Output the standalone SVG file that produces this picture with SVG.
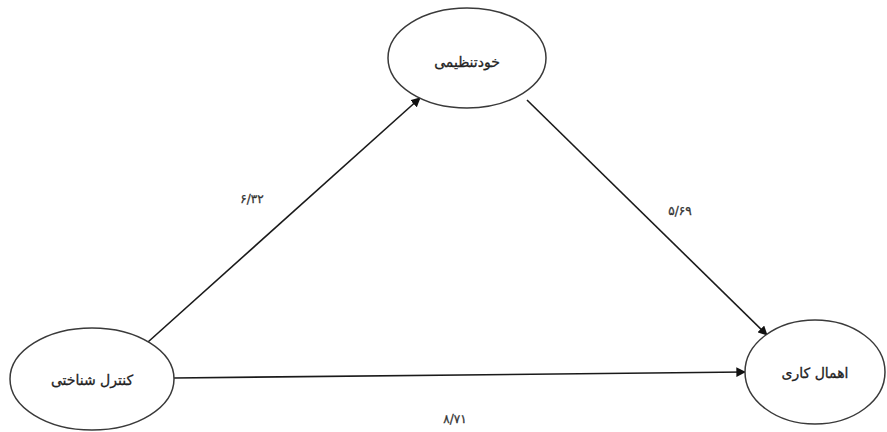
<svg xmlns="http://www.w3.org/2000/svg" width="887" height="432" viewBox="0 0 887 432">
<style>
.node{fill:#fff;stroke:#3a3a3a;stroke-width:1.5}
.lbl{font-family:"DejaVu Sans","Noto Sans",sans-serif;font-size:14px;fill:#222;stroke:#222;stroke-width:0.3;text-anchor:middle}
.num{font-family:"DejaVu Sans","Noto Sans",sans-serif;font-size:12px;fill:#333;stroke:#333;stroke-width:0.3;text-anchor:middle}
.edge{stroke:#1a1a1a;stroke-width:1.6;fill:none;marker-end:url(#arr)}
</style>
<defs>
<marker id="arr" viewBox="0 0 10 10" refX="9" refY="5" markerWidth="6" markerHeight="6" orient="auto" markerUnits="strokeWidth">
<path d="M0,0 L10,5 L0,10 z" fill="#111"/>
</marker>
</defs>
<rect width="887" height="432" fill="#fff"/>
<g id="edges">
<line class="edge" x1="148" y1="342" x2="420" y2="98"/>
<line class="edge" x1="527" y1="100" x2="767" y2="335"/>
<line class="edge" x1="174" y1="378" x2="745" y2="372"/>
<text class="num" x="252" y="203">۶/۳۲</text>
<text class="num" x="680" y="215">۵/۶۹</text>
<text class="num" x="455" y="423">۸/۷۱</text>
</g>
<g id="n-selfreg">
<ellipse class="node" cx="467" cy="58" rx="79" ry="50"/>
<text class="lbl" x="467" y="67">خودتنظیمی</text>
</g>
<g id="n-cogcontrol">
<ellipse class="node" cx="92" cy="379" rx="82" ry="51"/>
<text class="lbl" x="92" y="385">کنترل شناختی</text>
</g>
<g id="n-procrast">
<ellipse class="node" cx="815" cy="372" rx="70" ry="52"/>
<text class="lbl" x="815" y="378">اهمال کاری</text>
</g>
</svg>
